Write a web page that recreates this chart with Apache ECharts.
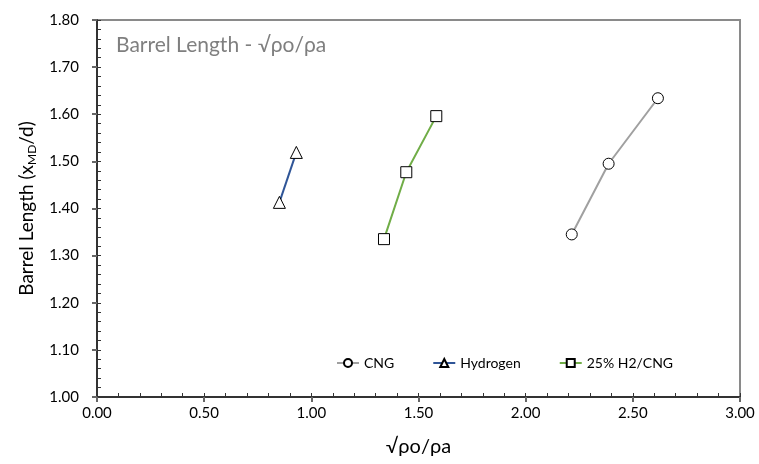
<!DOCTYPE html>
<html>
<head>
<meta charset="utf-8">
<script src="https://cdn.jsdelivr.net/npm/echarts@6/dist/echarts.min.js"></script>
<style>
  html, body { margin: 0; padding: 0; background: #fff; }
  #chart { width: 759px; height: 464px; }
</style>
</head>
<body>
<div id="chart"></div>
<script>
// Barrel length vs. square root of pressure ratio
const cngX = [2.215, 2.387, 2.617];
const cngY = [1.345, 1.495, 1.634];
const h2X = [0.851, 0.930];
const h2Y = [1.413, 1.519];
const blendX = [1.339, 1.443, 1.583];
const blendY = [1.335, 1.477, 1.596];

const seriesNames = ['CNG', 'Hydrogen', '25% H2/CNG'];
const xTicks = { min: 0, max: 3, step: 0.5 };
const yTicks = { min: 1.0, max: 1.8, step: 0.1 };

const FONT = 'Lato, "Open Sans", sans-serif';

function pairs(xs, ys) { return xs.map((x, i) => [x, ys[i]]); }

const chart = echarts.init(document.getElementById('chart'), null, { renderer: 'canvas' });

const markerStyle = { color: '#ffffff', borderColor: '#000000', borderWidth: 1 };

chart.setOption({
  animation: false,
  backgroundColor: '#ffffff',
  textStyle: { fontFamily: FONT },
  title: {
    text: 'Barrel Length - \u221A\u03C1o/\u03C1a',
    left: 111, top: 30,
    textStyle: { color: '#7f7f7f', fontSize: 21, fontWeight: 'normal', fontFamily: FONT }
  },
  grid: {
    left: 97, right: 19, top: 20, bottom: 67,
    show: true, borderColor: '#8a8a8a', borderWidth: 2, backgroundColor: 'transparent'
  },
  legend: {
    data: seriesNames,
    left: 331, top: 351,
    itemWidth: 22, itemHeight: 10, itemGap: 38,
    textStyle: { fontSize: 14, color: '#000', fontFamily: FONT }
  },
  xAxis: [{
    type: 'value', min: xTicks.min, max: xTicks.max, interval: xTicks.step,
    name: '\u221A\u03C1o/\u03C1a', nameLocation: 'middle', nameGap: 40,
    nameTextStyle: { fontSize: 20, color: '#000', fontFamily: FONT },
    axisLine: { lineStyle: { color: '#333', width: 2 } },
    axisTick: { show: true, length: 5, inside: false, lineStyle: { color: '#666', width: 2 } },
    axisLabel: { fontSize: 15, color: '#000', margin: 9, formatter: v => v.toFixed(2), fontFamily: FONT },
    splitLine: { show: false }
  }, {
    // inner minor ticks along the bottom edge
    type: 'value', min: xTicks.min, max: xTicks.max, interval: 0.1, position: 'bottom',
    axisLine: { show: false },
    axisTick: { show: true, inside: true, length: 4, lineStyle: { color: '#333', width: 1 } },
    axisLabel: { show: false }, splitLine: { show: false }
  }],
  yAxis: [{
    type: 'value', min: yTicks.min, max: yTicks.max, interval: yTicks.step,
    name: 'Barrel Length (x{sub|MD}/d)', nameLocation: 'middle', nameGap: 56,
    nameTextStyle: {
      fontSize: 19, color: '#000', fontFamily: FONT,
      rich: { sub: { fontSize: 12, color: '#000', fontFamily: FONT, padding: [12, 0, 0, 0] } }
    },
    axisLine: { show: true, lineStyle: { color: '#333', width: 2 } },
    axisTick: { show: true, length: 5, inside: false, lineStyle: { color: '#666', width: 2 } },
    axisLabel: { fontSize: 15, color: '#000', margin: 18, formatter: v => v.toFixed(2), fontFamily: FONT },
    splitLine: { show: false }
  }, {
    // inner minor ticks along the left edge
    type: 'value', min: yTicks.min, max: yTicks.max, interval: 0.02, position: 'left',
    axisLine: { show: false },
    axisTick: { show: true, inside: true, length: 4, lineStyle: { color: '#333', width: 1 } },
    axisLabel: { show: false }, splitLine: { show: false }
  }],
  series: [{
    name: seriesNames[0], type: 'line', data: pairs(cngX, cngY),
    symbol: 'circle', symbolSize: 11, showAllSymbol: true,
    lineStyle: { color: '#a0a0a0', width: 2 },
    itemStyle: markerStyle, color: '#a0a0a0'
  }, {
    name: seriesNames[1], type: 'line', data: pairs(h2X, h2Y),
    symbol: 'triangle', symbolSize: 12,
    lineStyle: { color: '#2f5597', width: 2 },
    itemStyle: markerStyle
  }, {
    name: seriesNames[2], type: 'line', data: pairs(blendX, blendY),
    symbol: 'rect', symbolSize: 11,
    lineStyle: { color: '#70ad47', width: 2 },
    itemStyle: markerStyle
  }]
});
</script>
</body>
</html>
